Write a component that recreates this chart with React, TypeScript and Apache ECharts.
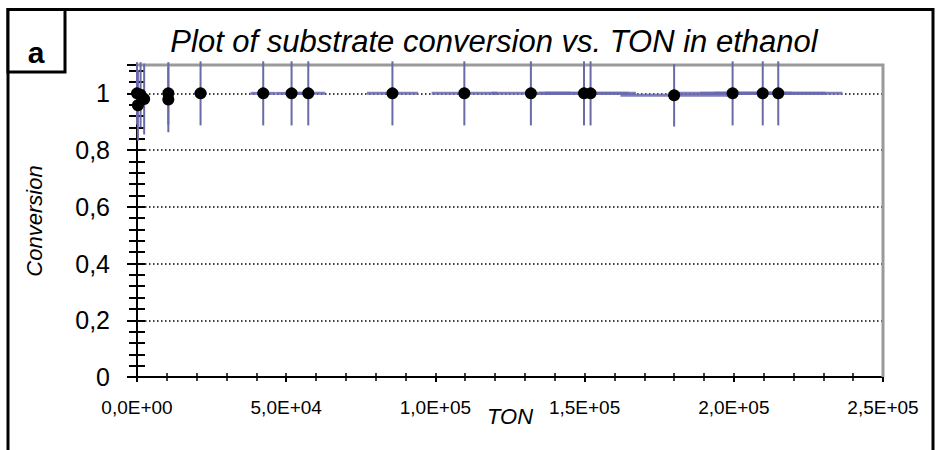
import React, { useEffect, useRef } from "react";
import * as echarts from "echarts";

// TON (x) and substrate conversion (y) with their error bars
const ton = [0, 1200, 300, 2400, 10500, 10500, 21300, 42300, 51800, 57400, 85600, 109700, 132000, 149800, 152000, 180000, 199600, 209700, 214900];
const conversion = [1.0, 0.995, 0.958, 0.98, 1.0, 0.978, 1.0, 1.0, 1.0, 1.0, 1.0, 1.0, 1.0, 1.0, 1.0, 0.993, 1.0, 1.0, 1.0];
const tonError = [0, 120, 30, 240, 1050, 1050, 2130, 4230, 5180, 5740, 8560, 10970, 13200, 14980, 15200, 18000, 19960, 20970, 21490];
const conversionError = [0.11, 0.115, 0.125, 0.125, 0.11, 0.115, 0.113, 0.113, 0.113, 0.113, 0.113, 0.113, 0.113, 0.113, 0.113, 0.11, 0.113, 0.113, 0.113];

const xTicks = [0, 50000, 100000, 150000, 200000, 250000];
const xTickLabels = ["0,0E+00", "5,0E+04", "1,0E+05", "1,5E+05", "2,0E+05", "2,5E+05"];
const yTicks = [0, 0.2, 0.4, 0.6, 0.8, 1];
const yTickLabels = ["0", "0,2", "0,4", "0,6", "0,8", "1"];

const FONT = "'Liberation Sans', Arial, sans-serif";

const GRID = { left: 137, top: 65, right: 53, bottom: 73 };

function findLabel(ticks: number[], labels: string[], v: number) {
  for (let i = 0; i < ticks.length; i++) {
    if (Math.abs(ticks[i] - v) < 1e-6 * Math.max(1, Math.abs(ticks[i]))) return labels[i];
  }
  return "";
}

export default function App() {
  const ref = useRef<HTMLDivElement>(null);
  useEffect(() => {
    if (!ref.current) return;
    const chart = echarts.init(ref.current, undefined, { renderer: "svg" });
    const W = 936;
    const H = 450;
    const gx0 = GRID.left;
    const gy0 = GRID.top;
    const gx1 = W - GRID.right;
    const gy1 = H - GRID.bottom;
    const data = ton.map((t, i) => [t, conversion[i], tonError[i], conversionError[i]]);

    const xBase = {
      type: "value",
      min: 0,
      max: 250000,
      position: "bottom",
      offset: 0,
      splitLine: { show: false },
    };
    const yBase = {
      type: "value",
      min: 0,
      max: 1.1,
      position: "left",
      offset: 0,
    };

    chart.setOption({
      animation: false,
      backgroundColor: "#ffffff",
      title: {
        text: "Plot of substrate conversion vs. TON in ethanol",
        left: 489,
        textAlign: "center",
        top: 21,
        textStyle: {
          fontFamily: FONT,
          fontStyle: "italic",
          fontWeight: "normal",
          fontSize: 31,
          color: "#000",
        },
      },
      grid: { ...GRID, containLabel: false },
      xAxis: [
        {
          ...xBase,
          interval: 50000,
          name: "TON",
          nameLocation: "middle",
          nameGap: 28,
          nameMoveOverlap: false,
          nameTextStyle: { fontFamily: FONT, fontStyle: "italic", fontSize: 22, color: "#000" },
          axisLine: { show: true, lineStyle: { color: "#000", width: 2 } },
          axisTick: { show: true, length: 5, inside: false, lineStyle: { color: "#000", width: 2 } },
          axisLabel: {
            margin: 21,
            fontFamily: FONT,
            fontSize: 19,
            color: "#000",
            formatter: (v: number) => findLabel(xTicks, xTickLabels, v),
          },
        },
        {
          ...xBase,
          interval: 10000,
          axisLine: { show: false },
          axisLabel: { show: false },
          axisTick: { show: true, length: 4, inside: false, lineStyle: { color: "#000", width: 1.5 } },
        },
        {
          ...xBase,
          interval: 10000,
          axisLine: { show: false },
          axisLabel: { show: false },
          axisTick: { show: true, length: 4, inside: true, lineStyle: { color: "#000", width: 1.5 } },
        },
      ],
      yAxis: [
        {
          ...yBase,
          interval: 0.2,
          name: "Conversion",
          nameLocation: "middle",
          nameGap: 92,
          nameMoveOverlap: false,
          nameTextStyle: { fontFamily: FONT, fontStyle: "italic", fontSize: 22, color: "#000" },
          axisLine: { show: true, lineStyle: { color: "#000", width: 2 } },
          axisTick: { show: true, length: 10, inside: false, lineStyle: { color: "#000", width: 2 } },
          axisLabel: {
            margin: 27,
            fontFamily: FONT,
            fontSize: 25,
            color: "#000",
            formatter: (v: number) => findLabel(yTicks, yTickLabels, v),
          },
          splitLine: { show: true, lineStyle: { color: "#000", width: 1.5, type: [1.5, 2.5] } },
        },
        {
          ...yBase,
          interval: 0.04,
          axisLine: { show: false },
          axisLabel: { show: false },
          splitLine: { show: false },
          axisTick: { show: true, length: 8, inside: false, lineStyle: { color: "#000", width: 2 } },
        },
        {
          ...yBase,
          interval: 0.04,
          axisLine: { show: false },
          axisLabel: { show: false },
          splitLine: { show: false },
          axisTick: { show: true, length: 8, inside: true, lineStyle: { color: "#000", width: 2 } },
        },
      ],
      graphic: [
        {
          type: "polyline",
          z: 1,
          shape: { points: [[gx0, gy0], [gx1, gy0], [gx1, gy1]] },
          style: { stroke: "#9a9a9a", lineWidth: 3, fill: "none" },
        },
        {
          type: "rect",
          z: 1,
          shape: { x: 8, y: 9.5, width: 925, height: 460 },
          style: { fill: "none", stroke: "#000", lineWidth: 3 },
        },
        {
          type: "rect",
          z: 1,
          shape: { x: 8, y: 9.5, width: 57, height: 62.5 },
          style: { fill: "#fff", stroke: "#000", lineWidth: 3 },
        },
        {
          type: "text",
          z: 2,
          x: 36,
          y: 52,
          style: {
            text: "a",
            fontFamily: FONT,
            fontWeight: "bold",
            fontSize: 30,
            fill: "#000",
            align: "center",
            verticalAlign: "middle",
          },
        },
      ],
      series: [
        {
          type: "custom",
          xAxisIndex: 0,
          yAxisIndex: 0,
          clip: false,
          z: 3,
          data,
          encode: { x: 0, y: 1 },
          renderItem: (params: any, api: any) => {
            const x = api.value(0);
            const y = api.value(1);
            const ex = api.value(2);
            const ey = api.value(3);
            const top = api.coord([x, y + ey]);
            const bot = api.coord([x, y - ey]);
            const l = api.coord([x - ex, y]);
            const r = api.coord([x + ex, y]);
            return {
              type: "group",
              children: [
                {
                  type: "line",
                  shape: { x1: l[0], y1: l[1], x2: r[0], y2: r[1] },
                  style: { stroke: "rgba(105,105,175,0.85)", lineWidth: 3 },
                },
                {
                  type: "line",
                  shape: { x1: top[0], y1: top[1], x2: bot[0], y2: bot[1] },
                  style: { stroke: "#6a6aa6", lineWidth: 2 },
                },
              ],
            };
          },
        },
        {
          type: "scatter",
          xAxisIndex: 0,
          yAxisIndex: 0,
          clip: false,
          z: 4,
          symbol: "circle",
          symbolSize: 12,
          itemStyle: { color: "#000", opacity: 1 },
          data: ton.map((t, i) => [t, conversion[i]]),
        },
      ],
    });
    return () => chart.dispose();
  }, []);
  return (
    <div
      ref={ref}
      style={{ position: "fixed", left: 0, top: 0, width: 936, height: 450, background: "#fff" }}
    />
  );
}
